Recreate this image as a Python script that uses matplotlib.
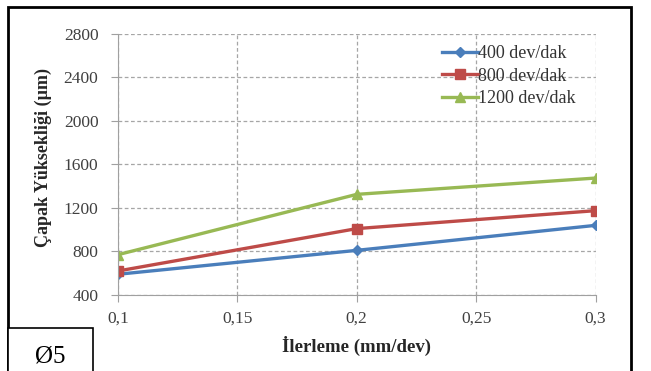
import matplotlib
matplotlib.use("Agg")
import matplotlib.pyplot as plt
from matplotlib.patches import Rectangle

ilerleme = [0.1, 0.2, 0.3]
y400 = [590, 810, 1040]
y800 = [620, 1010, 1175]
y1200 = [770, 1325, 1475]
labels = ["400 dev/dak", "800 dev/dak", "1200 dev/dak"]
xticks = [0.1, 0.15, 0.2, 0.25, 0.3]
xtick_labels = ["0,1", "0,15", "0,2", "0,25", "0,3"]
yticks = [400, 800, 1200, 1600, 2000, 2400, 2800]

plt.rcParams['font.family'] = ['Liberation Serif', 'DejaVu Serif']

fig = plt.figure(figsize=(6.51, 3.71), dpi=100)
ax = fig.add_axes([0.181, 0.205, 0.734, 0.7035])

ax.plot(ilerleme, y400, color='#4a7ebb', marker='D', markersize=5, lw=2.4, label=labels[0])
ax.plot(ilerleme, y800, color='#be4b48', marker='s', markersize=7, lw=2.4, label=labels[1])
ax.plot(ilerleme, y1200, color='#98b954', marker='^', markersize=7, lw=2.4, label=labels[2])

ax.set_xlim(0.1, 0.3)
ax.set_ylim(400, 2800)
ax.set_xticks(xticks)
ax.set_xticklabels(xtick_labels)
ax.set_yticks(yticks)
ax.tick_params(labelsize=12.5, color='#a0a0a0', labelcolor='#404040', length=5, direction='out')
ax.tick_params(axis='x', pad=6)
ax.tick_params(axis='y', pad=9)
ax.grid(True, linestyle=(0, (3, 2)), color='#a6a6a6', lw=0.9)
for s in ['top', 'right']:
    ax.spines[s].set_visible(False)
for s in ['left', 'bottom']:
    ax.spines[s].set_color('#a0a0a0')

ax.set_xlabel("İlerleme (mm/dev)", fontsize=13.5, fontweight='bold', labelpad=7, color='#262626')
ax.set_ylabel("Çapak Yüksekliği (µm)", fontsize=13, fontweight='bold', color='#262626')
ax.yaxis.set_label_coords(-0.138, 0.525)

ax.legend(loc='upper left', bbox_to_anchor=(0.663, 0.985), frameon=False, fontsize=13,
          handlelength=2.0, handletextpad=0.0, labelspacing=0.3, borderaxespad=0.0,
          labelcolor='#333333')

fig.patches.append(Rectangle((0.012, -0.01), 0.957, 0.991, transform=fig.transFigure,
                             fill=False, edgecolor='black', lw=2))
fig.patches.append(Rectangle((0.012, -0.01), 0.131, 0.126, transform=fig.transFigure,
                             fill=True, facecolor='white', edgecolor='black', lw=1.2))
fig.text(0.077, 0.038, "Ø5", fontsize=18, ha='center', va='center')

fig.savefig("out.png", dpi=100)
